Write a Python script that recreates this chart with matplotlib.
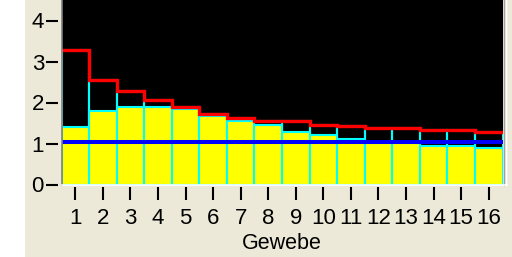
import matplotlib
matplotlib.use("Agg")
import matplotlib.pyplot as plt
import numpy as np

# Values
gewebe = list(range(1, 17))
gelb = [1.41, 1.80, 1.90, 1.90, 1.83, 1.66, 1.56, 1.46, 1.29, 1.20, 1.12, 1.02, 1.02, 0.95, 0.93, 0.89]
rot = [3.29, 2.56, 2.27, 2.07, 1.88, 1.73, 1.63, 1.54, 1.54, 1.46, 1.42, 1.37, 1.37, 1.33, 1.33, 1.29]
blau = 1.04
y_ticks = [0, 1, 2, 3, 4]

BEIGE = "#ECE9D8"
plt.rcParams["font.family"] = ["Liberation Sans", "DejaVu Sans"]

fig = plt.figure(figsize=(5.12, 2.57), dpi=100, facecolor="white")
# beige dialog panel (white strip on the left)
fig.patches.append(plt.Rectangle((25 / 512, 0), 1, 1, transform=fig.transFigure,
                                 facecolor=BEIGE, edgecolor="none", zorder=-10))

ax = fig.add_axes([61.5 / 512, (257 - 184.5) / 257, 441 / 512, 184.5 / 257])
ax.set_facecolor("black")

x = np.array(gewebe)
# outlined boxes up to the red level
ax.bar(x, rot, width=1.0, color="none", edgecolor="#00FFFF", linewidth=1.5, zorder=2)
# yellow bars
ax.bar(x, gelb, width=1.0, color="#FFFF00", edgecolor="#00FFFF", linewidth=1.5, zorder=3)
# blue reference line
ax.axhline(blau, color="#0000FF", linewidth=2.9, zorder=4)
# red step line over the bars
edges = np.append(x - 0.5, x[-1] + 0.5)
ax.stairs(rot, edges, baseline=None, color="#FF0000", linewidth=2.4, zorder=5)

ax.set_xlim(0.5, 16.5)
ax.set_ylim(0, 184.5 / 41)

ax.set_xticks(x)
ax.set_xticklabels([str(g) for g in gewebe])
ax.set_yticks(y_ticks)
ax.set_yticklabels([str(t) for t in y_ticks])

# ticks sit a few pixels away from the plot frame
ax.spines["left"].set_position(("outward", 2.5))
ax.spines["bottom"].set_position(("outward", 2))
for s in ax.spines.values():
    s.set_visible(False)

ax.tick_params(axis="y", direction="out", length=8.6, width=1.5, pad=1.5, labelsize=16)
ax.tick_params(axis="x", direction="out", length=9.4, width=1.5, pad=5.5, labelsize=16)
ax.set_xlabel("Gewebe", fontsize=15.5, labelpad=3)

# sunken frame: grey left/right, white bottom
ax.plot([0, 0], [0, 1], transform=ax.transAxes, color="#808080", linewidth=1.2, clip_on=False, zorder=6)
ax.plot([1.004, 1.004], [0, 1], transform=ax.transAxes, color="#A0A0A0", linewidth=1.0, clip_on=False, zorder=6)
ax.plot([1.009, 1.009], [0, 1], transform=ax.transAxes, color="white", linewidth=1.0, clip_on=False, zorder=6)
ax.plot([0, 1.01], [-0.004, -0.004], transform=ax.transAxes, color="white", linewidth=1.2, clip_on=False, zorder=6)

fig.savefig("out.png", dpi=100, facecolor="white")
